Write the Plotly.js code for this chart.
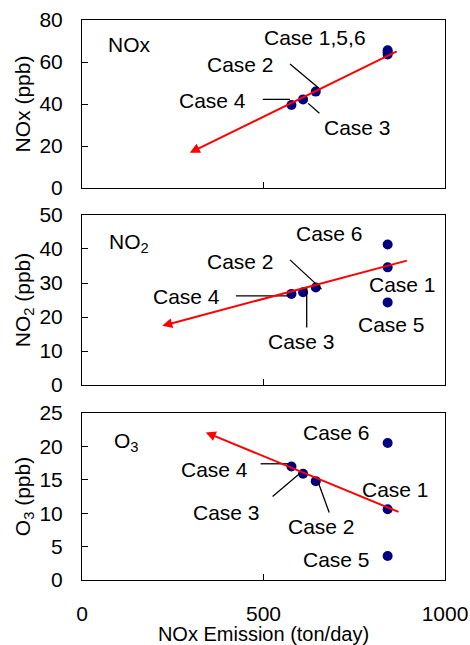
<!DOCTYPE html>
<html>
<head>
<meta charset="utf-8">
<script src="https://cdn.plot.ly/plotly-3.0.1.min.js"></script>
<style>
  html, body { margin: 0; padding: 0; background: #fff; }
  #chart { width: 470px; height: 645px; }
</style>
</head>
<body>
<div id="chart"></div>
<script>
// ---- data ----
const cases    = ['Case 1', 'Case 2', 'Case 3', 'Case 4', 'Case 5', 'Case 6'];
const emission = [842, 644, 609, 577, 842, 842];          // NOx emission (ton/day)
const noxPpb   = [63.6, 45.9, 42.2, 39.5, 64.6, 65.6];
const no2Ppb   = [34.6, 28.7, 27.3, 26.8, 24.3, 41.3];
const o3Ppb    = [10.6, 14.8, 15.9, 17.0, 3.6, 20.5];

// trend arrows: [tail, head]
const noxTrendX = [871, 297], noxTrendY = [65.4, 16.8];
const no2TrendX = [899, 221], no2TrendY = [36.7, 17.4];
const o3TrendX  = [876, 341], o3TrendY  = [10.1, 22.1];

// panel labels
const noxLabelText = ['NOx', 'Case 1,5,6', 'Case 2', 'Case 4', 'Case 3'];
const noxLabelX    = [130, 643, 437, 360, 760];
const noxLabelY    = [68.1, 71.8, 58.6, 41.8, 28.7];
const no2LabelText = ['NO<sub>2</sub>', 'Case 6', 'Case 2', 'Case 1', 'Case 4', 'Case 5', 'Case 3'];
const no2LabelX    = [130, 683, 437, 882, 287, 853, 606];
const no2LabelY    = [41.7, 44.5, 36.4, 29.5, 26.1, 17.7, 12.8];
const o3LabelText  = ['O<sub>3</sub>', 'Case 6', 'Case 4', 'Case 1', 'Case 3', 'Case 2', 'Case 5'];
const o3LabelX     = [123, 702, 364, 864, 398, 659, 702];
const o3LabelY     = [20.6, 22.1, 16.5, 13.5, 10.1, 8.0, 3.0];

// leader lines (segments separated by null)
const noxLeaderX = [573, 656, null, 498, 573, null, 623, 654];
const noxLeaderY = [59.0, 47.0, null, 42.2, 42.2, null, 40.3, 35.6];
const no2LeaderX = [573, 660, null, 424, 573, null, 619, 619];
const no2LeaderY = [36.8, 28.2, null, 26.2, 26.2, null, 28.6, 16.9];
const o3LeaderX  = [651, 681, null, 492, 568, null, 525, 599];
const o3LeaderY  = [14.6, 10.1, null, 17.4, 17.4, null, 12.5, 15.9];

const xTicks = [0, 500, 1000];

// ---- build ----
const FONT = 'Liberation Sans, Arial, sans-serif';
const markerStyle = { color: '#000080', size: 10 };
const leaderStyle = { color: '#000000', width: 1.3 };

const traces = [];
const panels = [
  { xa: 'x',  ya: 'y',  vals: noxPpb, lx: noxLeaderX, ly: noxLeaderY },
  { xa: 'x2', ya: 'y2', vals: no2Ppb, lx: no2LeaderX, ly: no2LeaderY },
  { xa: 'x3', ya: 'y3', vals: o3Ppb,  lx: o3LeaderX,  ly: o3LeaderY }
];
panels.forEach(p => {
  traces.push({ type: 'scatter', mode: 'markers', x: emission, y: p.vals, text: cases,
    xaxis: p.xa, yaxis: p.ya, marker: markerStyle, hoverinfo: 'text+x+y', cliponaxis: false });
  traces.push({ type: 'scatter', mode: 'lines', x: p.lx, y: p.ly, xaxis: p.xa, yaxis: p.ya,
    line: leaderStyle, hoverinfo: 'skip', connectgaps: false });
});

const annotations = [];
function addLabels(texts, xs, ys, xr, yr) {
  texts.forEach((t, i) => annotations.push({
    text: t, x: xs[i], y: ys[i], xref: xr, yref: yr, showarrow: false,
    xanchor: 'center', yanchor: 'middle', font: { family: FONT, size: 21, color: '#000' }
  }));
}
addLabels(noxLabelText, noxLabelX, noxLabelY, 'x', 'y');
addLabels(no2LabelText, no2LabelX, no2LabelY, 'x2', 'y2');
addLabels(o3LabelText,  o3LabelX,  o3LabelY,  'x3', 'y3');

function addTrend(tx, ty, xr, yr) {
  annotations.push({
    text: '', x: tx[1], y: ty[1], ax: tx[0], ay: ty[0],
    xref: xr, yref: yr, axref: xr, ayref: yr,
    showarrow: true, arrowhead: 2, arrowsize: 1, arrowwidth: 2, arrowcolor: '#ff0000', standoff: 0, startstandoff: 0
  });
}
addTrend(noxTrendX, noxTrendY, 'x', 'y');
addTrend(no2TrendX, no2TrendY, 'x2', 'y2');
addTrend(o3TrendX,  o3TrendY,  'x3', 'y3');

const baseX = {
  range: [0, 1000], tickvals: xTicks, ticks: 'inside', ticklen: 6, tickcolor: '#000', tickwidth: 1,
  showline: true, mirror: true, linecolor: '#000', linewidth: 1, showgrid: false, zeroline: false,
  fixedrange: true
};
const baseY = {
  ticks: 'inside', ticklen: 6, tickcolor: '#000', tickwidth: 1,
  showline: true, mirror: true, linecolor: '#000', linewidth: 1, showgrid: false, zeroline: false,
  tickfont: { family: FONT, size: 21, color: '#000' }, ticklabelstandoff: 14, fixedrange: true
};

const layout = {
  width: 470, height: 645,
  margin: { l: 82, r: 25, t: 20, b: 65 },
  paper_bgcolor: '#fff', plot_bgcolor: '#fff',
  showlegend: false,
  font: { family: FONT, size: 21, color: '#000' },
  xaxis:  Object.assign({}, baseX, { anchor: 'y',  showticklabels: false }),
  xaxis2: Object.assign({}, baseX, { anchor: 'y2', showticklabels: false }),
  xaxis3: Object.assign({}, baseX, { anchor: 'y3', showticklabels: true,
    tickfont: { family: FONT, size: 21, color: '#000' }, ticklabelstandoff: 15,
    title: { text: 'NOx Emission (ton/day)', font: { family: FONT, size: 20, color: '#000' }, standoff: 18 } }),
  yaxis:  Object.assign({}, baseY, { domain: [0.7, 1], range: [0, 80], dtick: 20, anchor: 'x',
    title: { text: 'NOx (ppb)', font: { family: FONT, size: 21 }, standoff: 3 } }),
  yaxis2: Object.assign({}, baseY, { domain: [0.3482, 0.6518], range: [0, 50], dtick: 10, anchor: 'x2',
    title: { text: 'NO<sub>2</sub> (ppb)', font: { family: FONT, size: 21 }, standoff: 3 } }),
  yaxis3: Object.assign({}, baseY, { domain: [0, 0.2982], range: [0, 25], dtick: 5, anchor: 'x3',
    title: { text: 'O<sub>3</sub> (ppb)', font: { family: FONT, size: 21 }, standoff: 3 } }),
  annotations: annotations
};

Plotly.newPlot('chart', traces, layout, { displayModeBar: false, staticPlot: true });
</script>
</body>
</html>
